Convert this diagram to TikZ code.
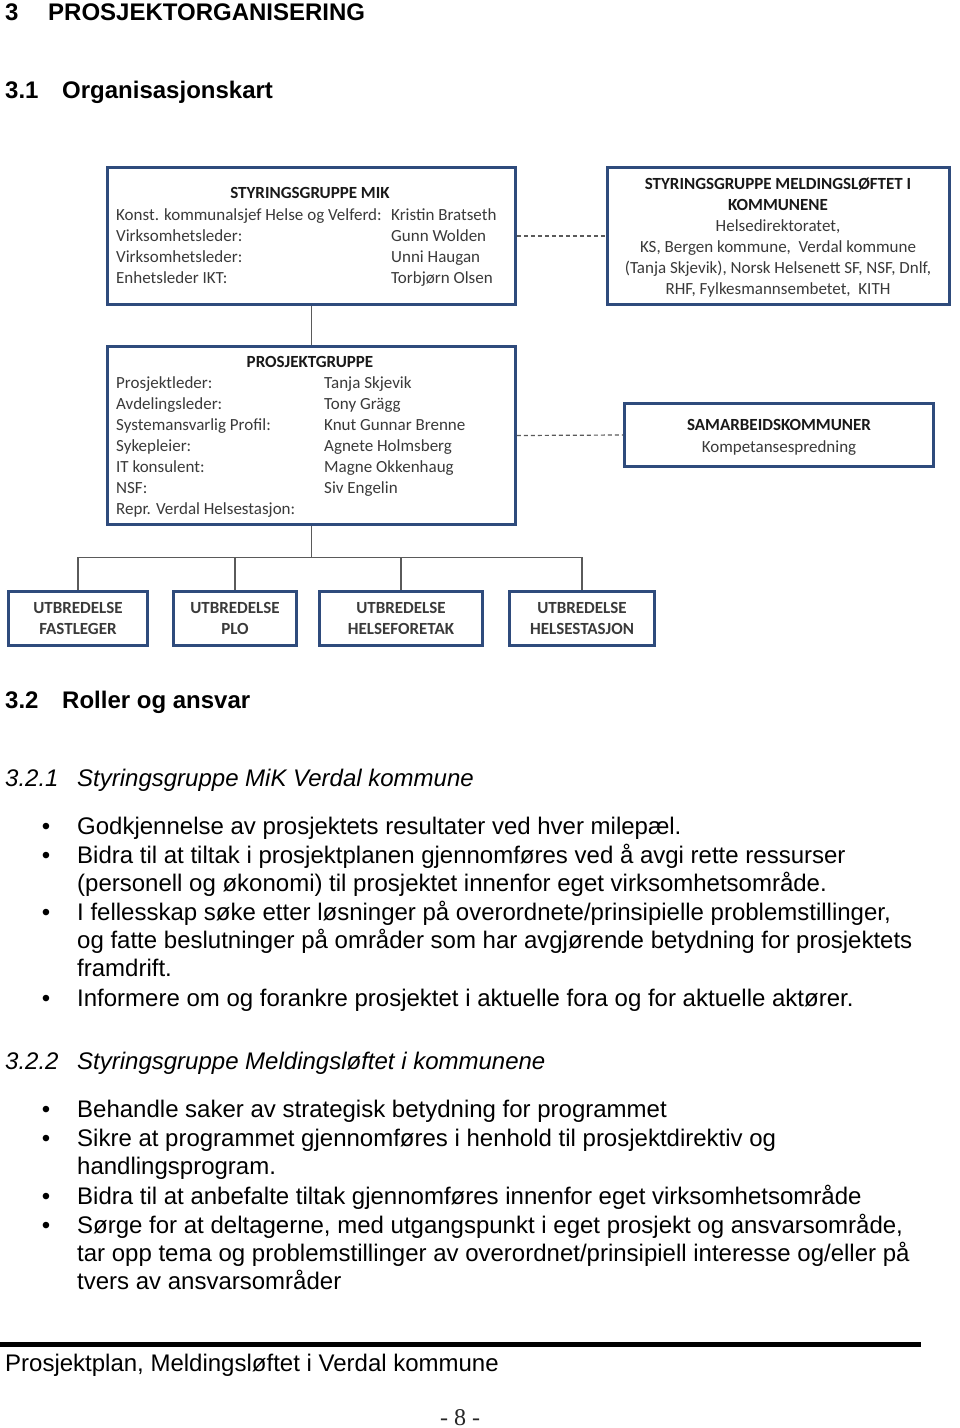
\documentclass[tikz,border=0pt]{standalone}
\usepackage{fontspec}
\setmainfont{Liberation Sans}
\newfontfamily\calfont{Carlito}
\newfontfamily\serfont{Liberation Serif}
\definecolor{boxblue}{HTML}{2F4B7C}
\definecolor{conngray}{HTML}{5A5A5A}
\definecolor{boxtext}{HTML}{3A3A3A}
\begin{document}
\begin{tikzpicture}[x=1pt,y=-1pt,
  box/.style={draw=boxblue, line width=2.8pt, fill=white, inner sep=0pt},
  conn/.style={draw=conngray, line width=1.4pt},
  dashconn/.style={draw=conngray, line width=1.2pt, dash pattern=on 4pt off 3pt},
  bt/.style={font=\calfont\fontsize{17}{21}\selectfont, text=boxtext, inner sep=0pt, anchor=mid west, yshift=-4pt},
  bh/.style={font=\calfont\bfseries\fontsize{17}{21}\selectfont, text=black!90, inner sep=0pt, anchor=mid, yshift=-4pt},
  boxlabel/.style={font=\calfont\fontsize{17}{21}\selectfont, text=boxtext, align=center},
  body/.style={font=\fontsize{24}{28}\selectfont, inner sep=0pt, anchor=mid west, yshift=-6pt},
  hd/.style={font=\bfseries\fontsize{24}{28}\selectfont, inner sep=0pt, anchor=mid west, yshift=-6pt},
  ihd/.style={font=\itshape\fontsize{24}{28}\selectfont, inner sep=0pt, anchor=mid west, yshift=-6pt},
  bul/.style={font=\fontsize{24}{28}\selectfont, inner sep=0pt, anchor=mid, yshift=-6pt}
]
\useasboundingbox[fill=white] (0,0) rectangle (960,1428);

% headings
\node[hd] (h3n) at (5,12) {3};
\node[hd] (h3t) at (48,12) {PROSJEKTORGANISERING};
\node[hd] (h31n) at (5,90) {3.1};
\node[hd] (h31t) at (62,90) {Organisasjonskart};

% boxes
\node[box, minimum width=408pt, minimum height=137pt] (mik) at (311.5,236) {};
\node[box, minimum width=342pt, minimum height=137pt] (meld) at (778.5,236) {};
\node[box, minimum width=408pt, minimum height=178pt] (pg) at (311.5,435.5) {};
\node[box, minimum width=309pt, minimum height=63pt] (sam) at (779,435) {};
\node[box, minimum width=139pt, minimum height=54pt, boxlabel] (b1) at (78,618.5) {\bfseries UTBREDELSE\\\bfseries FASTLEGER};
\node[box, minimum width=123pt, minimum height=54pt, boxlabel] (b2) at (235,618.5) {\bfseries UTBREDELSE\\\bfseries PLO};
\node[box, minimum width=163pt, minimum height=54pt, boxlabel] (b3) at (401,618.5) {\bfseries UTBREDELSE\\\bfseries HELSEFORETAK};
\node[box, minimum width=145pt, minimum height=54pt, boxlabel] (b4) at (582,618.5) {\bfseries UTBREDELSE\\\bfseries HELSESTASJON};

% connectors
\draw[dashconn] (mik.east) -- (meld.west);
\draw[dashconn] (pg.east) -- (sam.west);
\draw[conn] (mik.south) -- (pg.north);
\coordinate (bus) at (311.5,557.5);
\draw[conn] (pg.south) -- (bus);
\draw[conn] (bus) -| (b1.north);
\draw[conn] (bus) -| (b2.north);
\draw[conn] (bus) -| (b3.north);
\draw[conn] (bus) -| (b4.north);

% MIK text
\node[bh] (mikh) at (310,192) {STYRINGSGRUPPE MIK};
\node[bt] (mikl1) at (116,214) {Konst. kommunalsjef Helse og Velferd:};
\node[bt] (mikl2) at (116,235) {Virksomhetsleder:};
\node[bt] (mikl3) at (116,256) {Virksomhetsleder:};
\node[bt] (mikl4) at (116,277) {Enhetsleder IKT:};
\node[bt] (mikr1) at (391,214) {Kristin Bratseth};
\node[bt] (mikr2) at (391,235) {Gunn Wolden};
\node[bt] (mikr3) at (391,256) {Unni Haugan};
\node[bt] (mikr4) at (391,277) {Torbjørn Olsen};

% Meld text
\node[bh] (meldh1) at (778,183) {STYRINGSGRUPPE MELDINGSLØFTET I};
\node[bh] (meldh2) at (778,204) {KOMMUNENE};
\node[bt, anchor=mid] (meld1) at (778,225) {Helsedirektoratet,};
\node[bt, anchor=mid] (meld2) at (778,246) {KS, Bergen kommune,\ \ Verdal kommune};
\node[bt, anchor=mid] (meld3) at (778,267) {(Tanja Skjevik), Norsk Helsenett SF, NSF, Dnlf,};
\node[bt, anchor=mid] (meld4) at (778,288) {RHF, Fylkesmannsembetet,\ \ KITH};

% Prosjektgruppe text
\node[bh] (pgh) at (310,361) {PROSJEKTGRUPPE};
\node[bt] (pgl1) at (116,382) {Prosjektleder:};
\node[bt] (pgl2) at (116,403) {Avdelingsleder:};
\node[bt] (pgl3) at (116,424) {Systemansvarlig Profil:};
\node[bt] (pgl4) at (116,445) {Sykepleier:};
\node[bt] (pgl5) at (116,466) {IT konsulent:};
\node[bt] (pgl6) at (116,487) {NSF:};
\node[bt] (pgl7) at (116,508) {Repr. Verdal Helsestasjon:};
\node[bt] (pgr1) at (324,382) {Tanja Skjevik};
\node[bt] (pgr2) at (324,403) {Tony Grägg};
\node[bt] (pgr3) at (324,424) {Knut Gunnar Brenne};
\node[bt] (pgr4) at (324,445) {Agnete Holmsberg};
\node[bt] (pgr5) at (324,466) {Magne Okkenhaug};
\node[bt] (pgr6) at (324,487) {Siv Engelin};

% Samarbeid text
\node[bh] (samh) at (779,424) {SAMARBEIDSKOMMUNER};
\node[bt, anchor=mid] (sam1) at (779,446) {Kompetansespredning};

% section 3.2
\node[hd] (h32n) at (5,700) {3.2};
\node[hd] (h32t) at (62,700) {Roller og ansvar};
\node[ihd] (h321n) at (5,778) {3.2.1};
\node[ihd] (h321t) at (77,778) {Styringsgruppe MiK Verdal kommune};

\node[bul] (u1) at (46,826) {•};
\node[bul] (u2) at (46,855) {•};
\node[bul] (u3) at (46,912) {•};
\node[bul] (u4) at (46,998) {•};
\node[body] (t1) at (77,826) {Godkjennelse av prosjektets resultater ved hver milepæl.};
\node[body] (t2) at (77,855) {Bidra til at tiltak i prosjektplanen gjennomføres ved å avgi rette ressurser};
\node[body] (t3) at (77,883) {(personell og økonomi) til prosjektet innenfor eget virksomhetsområde.};
\node[body] (t4) at (77,912) {I fellesskap søke etter løsninger på overordnete/prinsipielle problemstillinger,};
\node[body] (t5) at (77,940) {og fatte beslutninger på områder som har avgjørende betydning for prosjektets};
\node[body] (t6) at (77,968) {framdrift.};
\node[body] (t7) at (77,998) {Informere om og forankre prosjektet i aktuelle fora og for aktuelle aktører.};

\node[ihd] (h322n) at (5,1061) {3.2.2};
\node[ihd] (h322t) at (77,1061) {Styringsgruppe Meldingsløftet i kommunene};

\node[bul] (v1) at (46,1109) {•};
\node[bul] (v2) at (46,1138) {•};
\node[bul] (v3) at (46,1196) {•};
\node[bul] (v4) at (46,1225) {•};
\node[body] (s1) at (77,1109) {Behandle saker av strategisk betydning for programmet};
\node[body] (s2) at (77,1138) {Sikre at programmet gjennomføres i henhold til prosjektdirektiv og};
\node[body] (s3) at (77,1166) {handlingsprogram.};
\node[body] (s4) at (77,1196) {Bidra til at anbefalte tiltak gjennomføres innenfor eget virksomhetsområde};
\node[body] (s5) at (77,1225) {Sørge for at deltagerne, med utgangspunkt i eget prosjekt og ansvarsområde,};
\node[body] (s6) at (77,1253) {tar opp tema og problemstillinger av overordnet/prinsipiell interesse og/eller på};
\node[body] (s7) at (77,1281) {tvers av ansvarsområder};

% footer
\fill[black] (0,1342) rectangle (921,1347);
\node[body] (foot) at (5,1363) {Prosjektplan, Meldingsløftet i Verdal kommune};
\node[font=\serfont\fontsize{24}{28}\selectfont, inner sep=0pt, anchor=mid, text=black!85, yshift=-6pt] (pnum) at (460,1417) {- 8 -};
\end{tikzpicture}
\end{document}
